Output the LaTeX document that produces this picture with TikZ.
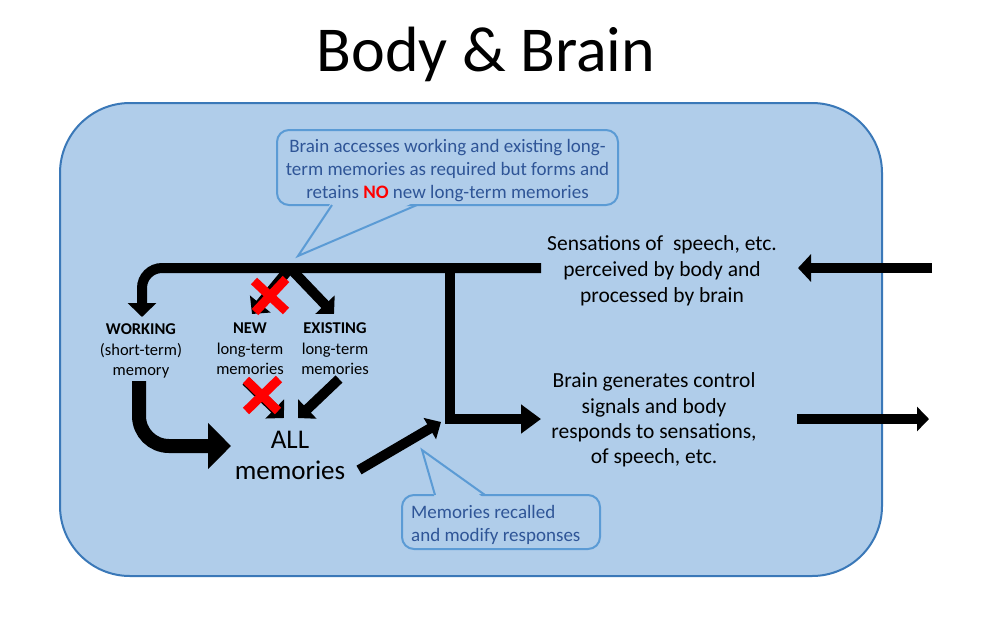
\documentclass[tikz,border=0pt]{standalone}
\usepackage{fontspec}
\setmainfont{Carlito}
\usetikzlibrary{arrows.meta}
\definecolor{boxfill}{HTML}{B0CDEA}
\definecolor{boxline}{HTML}{3A78B8}
\definecolor{callline}{HTML}{5B9BD5}
\definecolor{calltext}{HTML}{2F5597}
\definecolor{xred}{HTML}{FF0000}
\begin{document}
\begin{tikzpicture}[x=1pt,y=-1pt,
  blk/.style={line width=10pt, black},
  tipA/.style={-{Triangle[length=14pt,width=28pt]}},
  callbox/.style={draw=callline, line width=2pt, fill=boxfill, rounded corners=12pt},
  calltxt/.style={text=calltext, font=\fontsize{19}{23}\selectfont},
  lbl/.style={align=center, font=\fontsize{21.5}{26}\selectfont, inner sep=0pt},
  mem/.style={align=center, font=\fontsize{16.5}{20.5}\selectfont, inner sep=0pt},
  xmark/.style={line width=9pt, xred}]
\useasboundingbox (0,0) rectangle (1000,627);
\fill[white] (0,0) rectangle (1000,627);

% title
\node[font=\fontsize{64}{70}\selectfont] (title) at (486,54) {Body \& Brain};

% main box
\node[draw=boxline, line width=2pt, fill=boxfill, rounded corners=70pt,
      minimum width=822pt, minimum height=473pt, inner sep=0pt] (body) at (471,339.5) {};

% callout 1
\node[callbox, minimum width=341pt, minimum height=75pt, inner sep=0pt] (callA) at (447.5,167.5) {};
\coordinate (cAl) at (332,205);
\coordinate (cAr) at (417,205);
\coordinate (cAt) at (298,256);
\fill[boxfill] (332,201) -- (cAt) -- (417,201) -- cycle;
\draw[callline, line width=2pt, line join=miter] (cAl) -- (cAt) -- (cAr);
\node[calltxt, align=center] (callAtext) at (447.5,171) {Brain accesses working and existing long-\\term memories as required but forms and\\retains \textcolor{xred}{\textbf{NO}} new long-term memories};

% callout 2
\node[callbox, minimum width=198pt, minimum height=54pt, inner sep=0pt] (callB) at (501,522) {};
\coordinate (cBl) at (435,495);
\coordinate (cBr) at (485,495);
\coordinate (cBt) at (422,450);
\fill[boxfill] (435,499) -- (cBt) -- (485,499) -- cycle;
\draw[callline, line width=2pt, line join=miter] (cBl) -- (cBt) -- (cBr);
\node[calltxt, align=left, anchor=west, inner sep=0pt] (callBtext) at (411,525) {Memories recalled\\and modify responses};

% text nodes
\node[lbl] (sens) at (662,271) {Sensations of\ \ speech, etc.\\perceived by body and\\processed by brain};
\node[lbl, font=\fontsize{21.5}{25.3}\selectfont] (resp) at (654,420) {Brain generates control\\signals and body\\responds to sensations,\\of speech, etc.};
\node[mem] (work) at (141,351) {\textbf{WORKING}\\(short-term)\\memory};
\node[mem] (new) at (250,349) {\textbf{NEW}\\long-term\\memories};
\node[mem] (exist) at (335,349) {\textbf{EXISTING}\\long-term\\memories};
\node[align=center, font=\fontsize{27}{31}\selectfont, inner sep=0pt] (all) at (290,455) {ALL\\memories};

% junctions
\coordinate (j1) at (290,268);
\coordinate (j2) at (450,268);
\coordinate (topR) at (541,268);
\coordinate (workIn) at (142,317);
\coordinate (newIn) at (252,314);
\coordinate (exIn) at (334,314);
\coordinate (respIn) at (541,419);
\coordinate (allIn) at (231,446);
\coordinate (memOut) at (441,422);

% main top line down to WORKING
\draw[blk, rounded corners=20pt, tipA] (topR) -| (workIn);
% branches to NEW and EXISTING
\draw[blk, -{Triangle[length=13pt,width=26pt]}] (j1) -- (newIn);
\draw[blk, -{Triangle[length=13pt,width=26pt]}] (j1) -- (exIn);
% vertical down to response
\draw[blk, -{Triangle[length=20pt,width=28pt]}] (450,263) |- (respIn);
% NEW -> ALL, EXISTING -> ALL
\draw[blk, -{Triangle[length=13pt,width=26pt]}] (246,381) -- (284,418);
\draw[blk, -{Triangle[length=13pt,width=26pt]}] (339,379) -- (298,418);
% WORKING -> ALL
\draw[line width=14pt, rounded corners=30pt, -{Triangle[length=23pt,width=45pt]}] (139,381) |- (allIn);
% ALL -> junction
\draw[blk, -{Triangle[length=13pt,width=24pt]}] (359,470) -- (memOut);

% outside arrows
\coordinate (inR) at (932,268);
\coordinate (inL) at (798,268);
\coordinate (outL) at (797,419);
\coordinate (outR) at (929,419);
\draw[blk, -{Triangle[length=13pt,width=27pt]}] (inR) -- (inL);
\draw[blk, -{Triangle[length=12pt,width=24pt]}] (outL) -- (outR);

% red crosses
\draw[xmark] (254,281) -- (286,311);
\draw[xmark] (255,312) -- (286,279);
\draw[xmark] (246,380) -- (278,411);
\draw[xmark] (246,411) -- (279,379);
\end{tikzpicture}
\end{document}
